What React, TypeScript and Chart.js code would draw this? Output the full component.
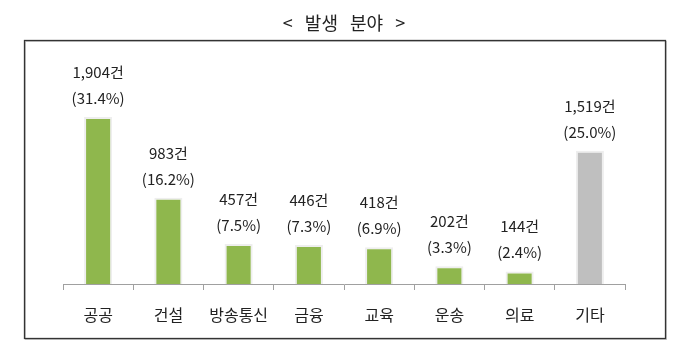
import React, { useEffect, useRef } from "react";
import { Chart, registerables } from "chart.js";

Chart.register(...registerables);

const title = "<   발생   분야   >";
const categories = ["공공", "건설", "방송통신", "금융", "교육", "운송", "의료", "기타"];
const counts = [1904, 983, 457, 446, 418, 202, 144, 1519];
const percents = ["31.4%", "16.2%", "7.5%", "7.3%", "6.9%", "3.3%", "2.4%", "25.0%"];
const countLabels = ["1,904건", "983건", "457건", "446건", "418건", "202건", "144건", "1,519건"];
const barColors = ["#8fb74d", "#8fb74d", "#8fb74d", "#8fb74d", "#8fb74d", "#8fb74d", "#8fb74d", "#bfbfbf"];

const FONT = "'Noto Sans CJK KR', 'Noto Sans', sans-serif";

const boxPlugin = {
  id: "boxFrame",
  beforeDraw(chart: any) {
    const ctx = chart.ctx;
    ctx.save();
    ctx.fillStyle = "#ffffff";
    ctx.fillRect(0, 0, chart.width, chart.height);
    ctx.strokeStyle = "#c8c8c8";
    ctx.lineWidth = 1;
    ctx.strokeRect(25.5, 41.5, 641, 298);
    ctx.strokeStyle = "#333333";
    ctx.lineWidth = 1.3;
    ctx.strokeRect(24.5, 40.5, 641, 298);
    ctx.restore();
  },
};

const labelPlugin = {
  id: "barLabels",
  afterDatasetsDraw(chart: any) {
    const ctx = chart.ctx;
    const meta = chart.getDatasetMeta(0);
    ctx.save();
    ctx.fillStyle = "#222222";
    ctx.font = `15px ${FONT}`;
    ctx.textAlign = "center";
    ctx.textBaseline = "middle";
    meta.data.forEach((bar: any, i: number) => {
      const x = bar.x;
      const y = bar.y;
      ctx.fillText(`(${percents[i]})`, x, y - 19);
      ctx.fillText(countLabels[i], x, y - 45);
    });
    ctx.restore();
  },
};

export default function App() {
  const ref = useRef<HTMLCanvasElement | null>(null);
  useEffect(() => {
    if (!ref.current) return;
    const chart = new Chart(ref.current, {
      type: "bar",
      data: {
        labels: categories,
        datasets: [
          {
            data: counts,
            backgroundColor: barColors,
            borderColor: "#eeeeee",
            borderWidth: { top: 2, left: 2, right: 2, bottom: 0 },
            borderSkipped: "bottom",
            barPercentage: 0.4,
            categoryPercentage: 1,
          },
        ],
      },
      options: {
        responsive: false,
        animation: false,
        devicePixelRatio: 1,
        layout: { padding: { left: 63, right: 65, top: 0, bottom: 24 } },
        plugins: {
          legend: { display: false },
          tooltip: { enabled: false },
          title: {
            display: true,
            text: title,
            color: "#222222",
            font: { family: FONT, size: 18, weight: "normal" },
            padding: { top: 12, bottom: 40 },
          },
        },
        scales: {
          x: {
            offset: true,
            grid: {
              display: true,
              drawOnChartArea: false,
              drawTicks: true,
              tickLength: 6,
              color: "#a0a0a0",
              offset: true,
            },
            border: { display: true, color: "#a0a0a0", width: 1 },
            ticks: {
              color: "#222222",
              font: { family: FONT, size: 16 },
              padding: 15,
            },
            afterFit(scale: any) {
              scale.height = 50;
            },
          },
          y: {
            display: false,
            min: 0,
            max: 2400,
          },
        },
      },
      plugins: [boxPlugin, labelPlugin],
    });
    return () => chart.destroy();
  }, []);
  return (
    <div style={{ position: "fixed", left: 0, top: 0, width: 690, height: 358, background: "#fff" }}>
      <canvas ref={ref} width={690} height={358} style={{ width: 690, height: 358, display: "block" }} />
    </div>
  );
}
